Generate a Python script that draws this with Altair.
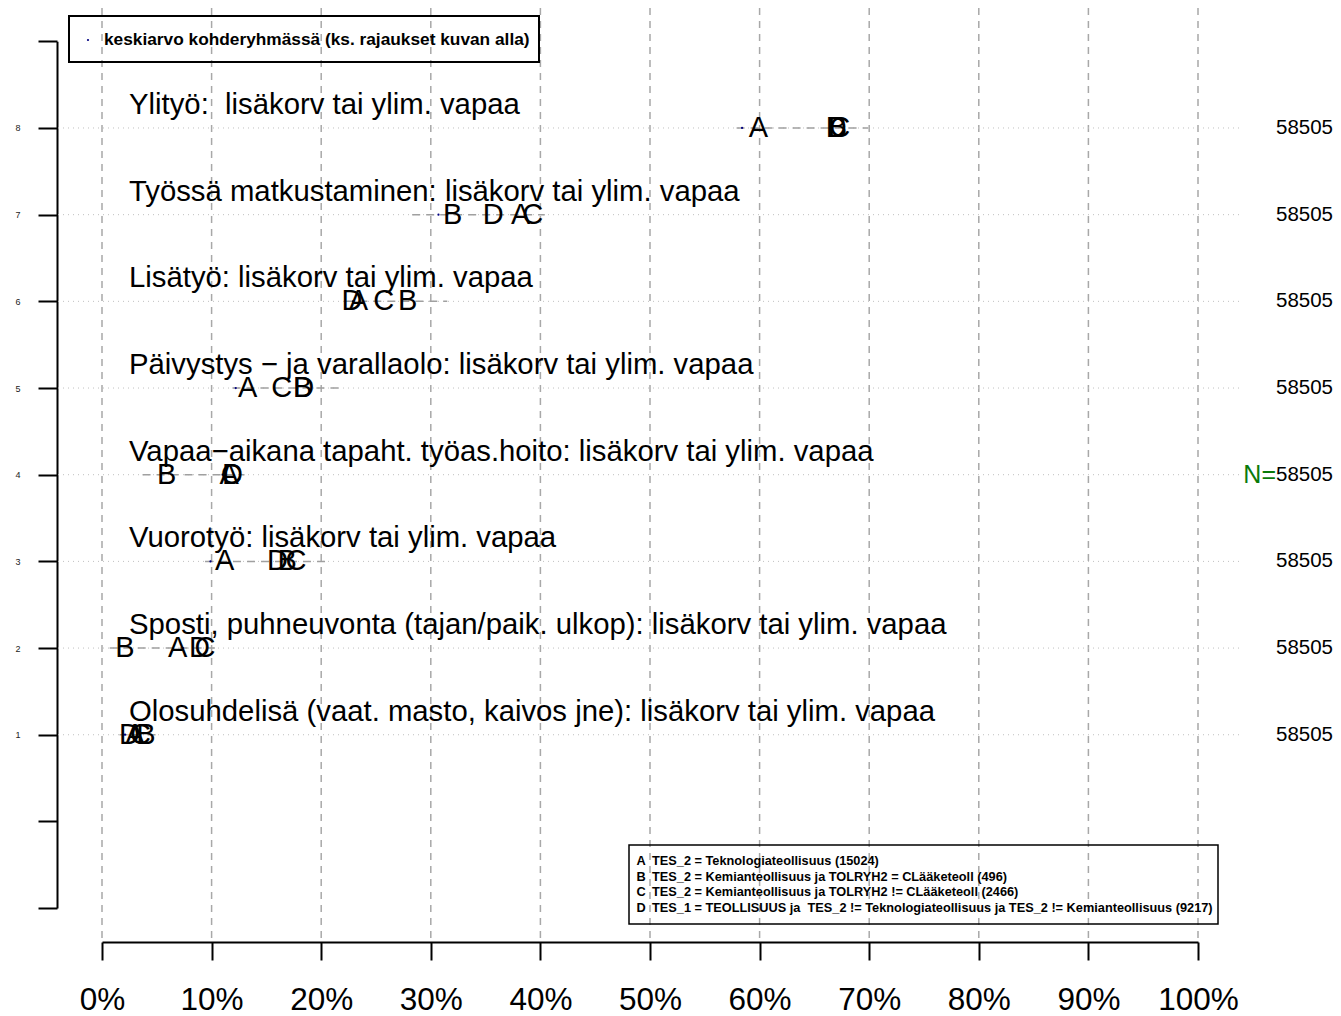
import altair as alt
import pandas as pd

# ---------------- data ----------------
rows = [1, 2, 3, 4, 5, 6, 7, 8]
row_labels = [
    "Olosuhdelisä (vaat. masto, kaivos jne): lisäkorv tai ylim. vapaa",
    "Sposti, puhneuvonta (tajan/paik. ulkop): lisäkorv tai ylim. vapaa",
    "Vuorotyö: lisäkorv tai ylim. vapaa",
    "Vapaa\u2212aikana tapaht. työas.hoito: lisäkorv tai ylim. vapaa",
    "Päivystys \u2212 ja varallaolo: lisäkorv tai ylim. vapaa",
    "Lisätyö: lisäkorv tai ylim. vapaa",
    "Työssä matkustaminen: lisäkorv tai ylim. vapaa",
    "Ylityö:\u00a0 lisäkorv tai ylim. vapaa",
]
group_A = [3.0, 6.9, 11.2, 11.6, 13.3, 23.4, 38.2, 59.9]
group_B = [4.0, 2.1, 16.9, 5.9, 18.3, 27.9, 32.0, 67.1]
group_C = [3.5, 9.4, 17.7, 11.8, 16.4, 25.7, 39.3, 67.3]
group_D = [2.5, 8.9, 16.0, 11.9, 18.4, 22.8, 35.7, 67.0]
mean_all = [2.1, 7.4, 9.9, 11.0, 12.2, 22.9, 30.7, 58.4]
range_lo = [1.6, 0.7, 9.4, 3.7, 11.9, 22.2, 28.3, 57.9]
range_hi = [5.3, 10.3, 20.8, 13.0, 21.7, 31.5, 40.4, 69.9]
n_counts = [58505] * 8

x_ticks = [0, 10, 20, 30, 40, 50, 60, 70, 80, 90, 100]
y_ticks = [-1, 0, 1, 2, 3, 4, 5, 6, 7, 8, 9]

legend_letters = ["A", "B", "C", "D"]
legend_texts = [
    "TES_2 = Teknologiateollisuus (15024)",
    "TES_2 = Kemianteollisuus ja TOLRYH2 = CLääketeoll (496)",
    "TES_2 = Kemianteollisuus ja TOLRYH2 != CLääketeoll (2466)",
    "TES_1 = TEOLLISUUS ja\u00a0 TES_2 != Teknologiateollisuus ja TES_2 != Kemianteollisuus (9217)",
]
top_legend_text = "keskiarvo kohderyhmässä (ks. rajaukset kuvan alla)"

FONT = "Liberation Sans"

# ---------------- tables ----------------
df_rows = pd.DataFrame({
    "row": rows, "label": row_labels, "mean": mean_all,
    "lo": range_lo, "hi": range_hi, "n": [str(v) for v in n_counts],
})
letters = []
for name, vals in [("A", group_A), ("B", group_B), ("C", group_C), ("D", group_D)]:
    for r, v in zip(rows, vals):
        letters.append({"row": r, "val": v, "grp": name})
df_letters = pd.DataFrame(letters)
df_xgrid = pd.DataFrame({"x": x_ticks})

H = 1008
xs = alt.Scale(domain=[0, 100], range=[94, 1190], nice=False, zero=False)
ys = alt.Scale(domain=[-1, 9], range=[900.1, 33.3], nice=False, zero=False)

x_axis = alt.Axis(
    orient="bottom", offset=-(H - 934), values=x_ticks, labelExpr="datum.value + '%'",
    title=None, grid=False, domainColor="black", domainWidth=2,
    tickColor="black", tickWidth=2, tickSize=18, labelFont=FONT,
    labelFontSize=31.5, labelColor="black", labelPadding=24,
    labelFlush=False, labelOverlap=False,
)
y_axis = alt.Axis(
    orient="left", offset=-49, values=y_ticks,
    labelExpr="datum.value >= 1 && datum.value <= 8 ? format(datum.value, 'd') : ''",
    title=None, grid=False, domainColor="black", domainWidth=2,
    tickColor="black", tickWidth=2, tickSize=19, labelFont=FONT,
    labelFontSize=9, labelColor="#222222", labelPadding=18,
    labelOverlap=False,
)

# vertical dashed grid
vgrid = alt.Chart(df_xgrid).mark_rule(
    color="#a8a8a8", strokeWidth=1.5, strokeDash=[7, 6]
).encode(
    x=alt.X("x:Q", scale=xs, axis=x_axis),
    y=alt.value(0), y2=alt.value(932),
)

# horizontal dotted grid
hgrid = alt.Chart(df_rows).mark_rule(
    color="#c0c0c0", strokeWidth=1, strokeDash=[1, 4]
).encode(
    y=alt.Y("row:Q", scale=ys, axis=y_axis),
    x=alt.value(50), x2=alt.value(1232),
)

# dashed range line
ranges = alt.Chart(df_rows).mark_rule(
    color="#a0a0a0", strokeWidth=1.5, strokeDash=[8, 6]
).encode(
    x=alt.X("lo:Q", scale=xs), x2="hi:Q",
    y=alt.Y("row:Q", scale=ys),
)

# row labels
row_text = alt.Chart(df_rows).mark_text(
    align="left", baseline="middle", font=FONT, fontSize=29.3, dy=-23, color="black"
).encode(
    x=alt.value(121), y=alt.Y("row:Q", scale=ys), text="label:N",
)

# mean dot
mean_dot = alt.Chart(df_rows).mark_point(
    filled=True, size=5, color="#000080", opacity=1
).encode(
    x=alt.X("mean:Q", scale=xs), y=alt.Y("row:Q", scale=ys),
)

# group letters
letter_text = alt.Chart(df_letters).mark_text(
    align="center", baseline="middle", font=FONT, fontSize=29, color="black"
).encode(
    x=alt.X("val:Q", scale=xs), y=alt.Y("row:Q", scale=ys), text="grp:N",
    order=alt.Order("grp:N"),
)

# N values
n_text = alt.Chart(df_rows).mark_text(
    align="right", baseline="middle", font=FONT, fontSize=20.5, color="black"
).encode(
    x=alt.value(1325), y=alt.Y("row:Q", scale=ys), text="n:N",
)
n_label = alt.Chart(df_rows[df_rows["row"] == 4]).mark_text(
    align="right", baseline="middle", font=FONT, fontSize=25, color="#0a7a0a"
).encode(
    x=alt.value(1268), y=alt.Y("row:Q", scale=ys), text=alt.value("N="),
)

# top legend
df_top = pd.DataFrame({"t": [top_legend_text]})
top_box = alt.Chart(df_top).mark_rect(
    fill=None, stroke="black", strokeWidth=2
).encode(
    x=alt.value(61), x2=alt.value(531), y=alt.value(8), y2=alt.value(54),
)
top_dot = alt.Chart(df_top).mark_point(
    filled=True, size=5, color="#000080", opacity=1
).encode(x=alt.value(80), y=alt.value(32))
top_text = alt.Chart(df_top).mark_text(
    align="left", baseline="middle", font=FONT, fontSize=17.3, fontWeight="bold",
    color="black"
).encode(x=alt.value(96), y=alt.value(32), text="t:N")

# bottom legend
df_leg = pd.DataFrame({
    "letters": ["\n".join(legend_letters)],
    "texts": ["\n".join(legend_texts)],
})
bot_box = alt.Chart(df_leg).mark_rect(
    fill=None, stroke="black", strokeWidth=1.5
).encode(
    x=alt.value(621), x2=alt.value(1210), y=alt.value(837), y2=alt.value(916),
)
bot_letters = alt.Chart(df_leg).mark_text(
    align="center", baseline="middle", font=FONT, fontSize=12.75, fontWeight="bold",
    lineBreak="\n", lineHeight=15.6, color="black"
).encode(x=alt.value(633), y=alt.value(853), text="letters:N")
bot_texts = alt.Chart(df_leg).mark_text(
    align="left", baseline="middle", font=FONT, fontSize=12.75, fontWeight="bold",
    lineBreak="\n", lineHeight=15.6, color="black"
).encode(x=alt.value(644), y=alt.value(853), text="texts:N")

chart = alt.layer(
    vgrid, hgrid, ranges, row_text, mean_dot, letter_text, n_text, n_label,
    top_box, top_dot, top_text, bot_box, bot_letters, bot_texts,
).properties(
    width=1325, height=H, padding=0, background="white",
    autosize=alt.AutoSizeParams(type="none"),
).configure_view(strokeWidth=0)

chart.save("out.html", embed_options={"renderer": "svg", "actions": False})
